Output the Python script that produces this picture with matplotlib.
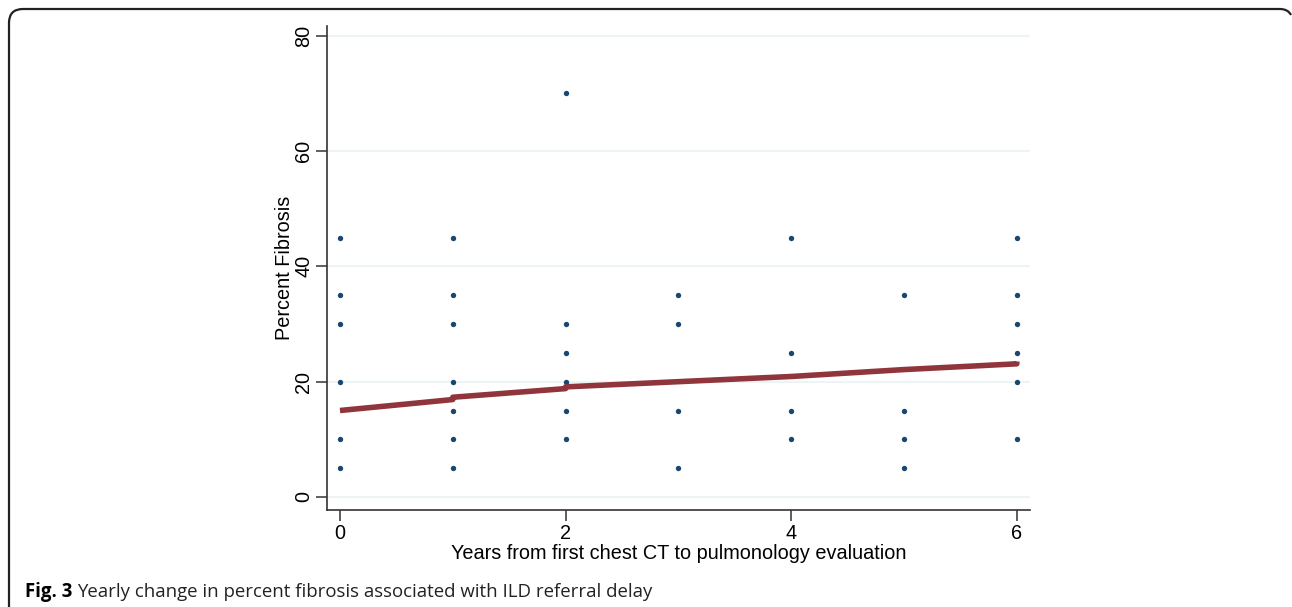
import matplotlib
matplotlib.use("Agg")
import matplotlib.pyplot as plt
from matplotlib.path import Path
from matplotlib.patches import PathPatch

# ---- data ----
x_years = [0, 0, 0, 0, 0, 0,
           1, 1, 1, 1, 1, 1, 1,
           2, 2, 2, 2, 2, 2,
           3, 3, 3, 3,
           4, 4, 4, 4,
           5, 5, 5, 5,
           6, 6, 6, 6, 6, 6]
y_fibrosis = [45, 35, 30, 20, 10, 5,
              45, 35, 30, 20, 15, 10, 5,
              70, 30, 25, 20, 15, 10,
              35, 30, 15, 5,
              45, 25, 15, 10,
              35, 15, 10, 5,
              45, 35, 30, 25, 20, 10]
fit_x = [0, 1, 1, 2, 2, 3, 4, 5, 6, 6]
fit_y = [15.0, 16.9, 17.3, 18.8, 19.1, 20.0, 20.9, 22.1, 23.1, 23.5]
x_ticks = [0, 2, 4, 6]
y_ticks = [0, 20, 40, 60, 80]

W, H = 1292, 607
fig = plt.figure(figsize=(W / 100, H / 100), dpi=100)
fig.patch.set_facecolor("white")

left, right, top, bottom = 327, 1030, 26, 510
ax = fig.add_axes([left / W, 1 - bottom / H, (right - left) / W, (bottom - top) / H])
ax.set_xlim(-0.115, 6.117)
ax.set_ylim(-2.26, 81.7)

for yt in y_ticks:
    ax.axhline(yt, color="#eaf2f3", lw=1.2, zorder=0)

ax.scatter(x_years, y_fibrosis, s=15, color="#1a476f", zorder=3, linewidths=0)
ax.plot(fit_x, fit_y, color="#90353b", lw=4, solid_capstyle="butt", zorder=4)

ax.spines["top"].set_visible(False)
ax.spines["right"].set_visible(False)
for s in ("left", "bottom"):
    ax.spines[s].set_linewidth(1.2)
    ax.spines[s].set_color("#333333")

fs = 14.3
tick_font = "Liberation Sans"
ax.set_xticks(x_ticks)
ax.set_yticks(y_ticks)
ax.set_xticklabels([str(t) for t in x_ticks], fontsize=fs, family=tick_font)
ax.set_yticklabels([str(t) for t in y_ticks], fontsize=fs, family=tick_font,
                   rotation=90, va="center")
ax.tick_params(axis="both", length=8, width=1.1, color="#333333", pad=2)
ax.set_xlabel("Years from first chest CT to pulmonology evaluation",
              fontsize=fs, family=tick_font, labelpad=1)
ax.set_ylabel("Percent Fibrosis", fontsize=fs, family=tick_font, labelpad=0)

# outer frame (rounded top-left corner, open bottom, cut at right)
r = 14
x0, y0 = 9, 9
verts = [(x0, H), (x0, y0 + r), (x0, y0), (x0 + r, y0), (1280, y0), (1288, y0), (1291, y0 + 6)]
codes = [Path.MOVETO, Path.LINETO, Path.CURVE3, Path.CURVE3, Path.LINETO, Path.CURVE3, Path.CURVE3]
verts_fig = [(vx / W, 1 - vy / H) for vx, vy in verts]
frame = PathPatch(Path(verts_fig, codes), transform=fig.transFigure, fill=False,
                  edgecolor="#222222", lw=1.6)
fig.patches.append(frame)

# caption
cap_fs = 13.4
t1 = fig.text(25 / W, 1 - 592 / H, "Fig. 3", fontsize=cap_fs, family="Open Sans",
              fontweight="bold", va="center", ha="left")
fig.canvas.draw()
bb = t1.get_window_extent(renderer=fig.canvas.get_renderer())
fig.text((bb.x1 + 5) / W, 1 - 592 / H,
         "Yearly change in percent fibrosis associated with ILD referral delay",
         fontsize=cap_fs, family="Open Sans", va="center", ha="left", color="#222222")

fig.savefig("out.png", dpi=100, facecolor="white")
